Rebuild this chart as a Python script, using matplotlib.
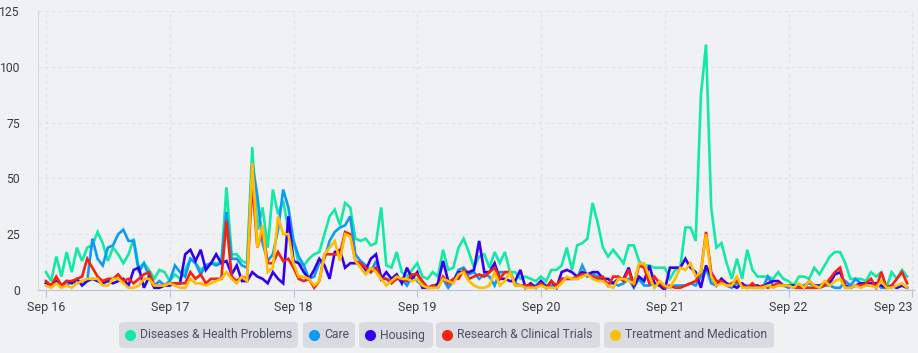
import numpy as np
import pandas as pd
import matplotlib
matplotlib.use('Agg')
import matplotlib.pyplot as plt
import matplotlib.dates as mdates
from matplotlib.patches import FancyBboxPatch

# hourly mentions, Sep 16 00:00 .. Sep 22 23:00
diseases = [8,4,15,6,17,8,19,13,19,20,26,21,13,19,16,12,16,23,10,12,9,5,9,8,
            4,7,5,9,14,12,9,11,12,12,12,46,16,16,13,12,64,27,37,19,45,34,40,27,
            22,12,11,14,16,17,25,33,36,29,39,37,23,22,23,20,21,37,11,10,17,8,6,9,
            12,6,5,8,6,18,9,10,19,23,17,10,15,16,10,17,12,17,8,8,5,6,5,4,
            6,4,9,9,11,19,9,20,21,23,39,30,19,15,18,15,12,20,20,13,11,11,10,10,
            10,5,9,10,28,28,22,87,110,37,19,21,12,5,14,5,18,9,6,6,6,5,8,5,
            4,2,6,6,5,10,7,11,15,17,17,12,5,5,5,4,8,6,8,1,8,5,9,6]
care = [3,2,3,2,2,4,3,4,4,23,14,11,19,20,25,27,22,22,8,12,6,2,4,2,
        4,11,8,6,14,12,7,11,12,11,12,35,14,14,11,10,57,42,21,13,16,27,45,37,
        22,15,11,5,6,12,14,22,26,28,29,33,16,13,11,8,13,6,5,4,5,5,2,6,
        4,2,1,2,2,5,1,4,9,10,7,8,5,7,6,2,8,8,8,3,2,2,2,2,
        4,2,2,2,5,5,5,5,11,6,7,6,4,3,3,2,3,5,1,5,2,2,3,2,
        2,1,2,2,2,3,2,6,10,3,2,5,2,1,3,2,2,1,1,1,6,2,2,2,
        1,2,2,2,3,2,1,2,2,1,1,4,2,5,3,2,2,3,1,1,2,1,2,1]
housing = [3,2,4,2,4,3,5,2,4,5,4,3,4,3,4,5,2,9,10,1,6,1,1,2,
           2,3,3,16,18,13,18,9,12,16,12,13,7,11,4,4,8,6,5,3,8,5,3,33,
           13,12,8,5,9,14,11,5,17,18,10,12,12,12,9,14,16,5,8,5,7,3,10,5,
           8,1,1,1,3,13,4,4,8,8,8,9,22,8,8,12,5,5,4,4,9,1,3,1,
           4,1,4,1,8,9,8,6,8,7,8,8,5,5,3,5,5,10,2,6,4,11,3,2,
           0,10,10,10,14,10,8,1,11,6,2,5,3,2,1,3,1,2,2,1,3,4,4,2,
           2,2,1,1,4,2,2,3,3,7,8,2,1,2,3,3,3,3,2,1,2,1,2,1]
research = [4,2,6,2,4,4,5,6,14,10,6,4,5,5,7,4,5,3,5,7,8,2,2,2,
            3,3,3,3,8,5,7,3,5,5,5,31,6,4,6,5,48,19,27,12,12,17,13,14,
            10,5,4,5,1,4,16,16,16,16,26,25,13,12,10,8,10,5,5,3,5,5,4,7,
            7,4,1,2,1,6,3,5,5,9,5,6,7,6,8,10,5,8,8,2,2,2,2,1,
            3,1,4,2,5,5,5,6,7,7,6,5,6,2,6,6,4,9,2,11,10,3,6,3,
            1,2,1,1,2,3,4,8,26,8,4,4,2,3,4,2,1,3,1,2,1,2,3,2,
            2,1,1,1,1,1,1,2,5,8,10,1,1,2,2,3,5,1,8,1,2,5,8,3]
treatment = [2,1,3,1,2,1,3,4,5,5,5,2,2,5,5,3,1,1,2,5,5,2,2,2,
             3,2,1,1,5,3,3,2,3,4,5,8,5,3,6,4,57,19,29,8,10,33,25,25,
             12,6,6,5,2,4,16,19,22,13,25,24,13,10,7,10,8,5,2,4,6,5,5,4,
             5,2,1,1,1,5,4,3,7,8,4,2,1,1,2,8,2,4,8,2,2,1,1,1,
             2,1,1,1,3,6,5,5,6,7,5,4,4,2,1,5,5,4,3,12,12,6,1,4,
             2,1,5,10,9,12,6,8,25,6,2,3,2,2,6,1,1,1,1,1,2,1,2,2,
             2,1,3,1,4,2,1,4,2,4,5,1,1,2,1,2,2,1,4,1,1,2,3,1]

names = ['Diseases & Health Problems', 'Care', 'Housing',
         'Research & Clinical Trials', 'Treatment and Medication']
colors = ['#14e8a6', '#0b9bf5', '#3300ee', '#f9200f', '#ffbf00']

times = pd.date_range('2023-09-16', periods=len(diseases), freq='h')
df = pd.DataFrame({'d': diseases, 'c': care, 'h': housing,
                   'r': research, 't': treatment}, index=times)

bg = '#f0f1f3'
plt.rcParams['font.family'] = ['Roboto', 'DejaVu Sans']

W, H = 918, 353
fig = plt.figure(figsize=(W / 100, H / 100), dpi=100, facecolor=bg)
ax = fig.add_axes([38 / W, 1 - 290 / H, (914 - 38) / W, (290 - 11) / H])
ax.set_facecolor(bg)

for col, c in zip(df.columns, colors):
    ax.plot(df.index, df[col], color=c, lw=1.9, solid_joinstyle='miter')

start = pd.Timestamp('2023-09-16')
ax.set_xlim(start - pd.Timedelta(minutes=93), pd.Timestamp('2023-09-23') + pd.Timedelta(minutes=20))
ax.set_ylim(0, 125)
ax.set_yticks([0, 25, 50, 75, 100, 125])
ax.xaxis.set_major_locator(mdates.DayLocator())
ax.xaxis.set_major_formatter(mdates.DateFormatter('%b %d'))

ax.grid(True, color='#dde2ea', lw=0.8, ls=(0, (3, 3)))
ax.set_axisbelow(True)
for s in ['top', 'right']:
    ax.spines[s].set_visible(False)
ax.spines['left'].set_color('#d3d9e6')
ax.spines['bottom'].set_color('#b9c3da')
ax.tick_params(axis='y', length=0, pad=13, labelsize=8.7, labelcolor='#373d3f')
ax.tick_params(axis='x', length=5, color='#b9c3da', pad=3, labelsize=9, labelcolor='#373d3f')

# last date label is pushed inside the figure
fig.canvas.draw()
xlabels = ax.get_xticklabels()
xlabels[-1].set_horizontalalignment('right')

# legend: one rounded grey chip per series
chips = [(119, 298), (303, 355), (359, 433), (436, 600), (604, 774)]
y0, y1 = 322, 348
for (xa, xb), name, c in zip(chips, names, colors):
    box = FancyBboxPatch((xa / W, 1 - y1 / H), (xb - xa) / W, (y1 - y0) / H,
                         boxstyle='round,pad=0,rounding_size=0.008',
                         transform=fig.transFigure, fc='#d8dce2', ec='none')
    fig.add_artist(box)
    yc = 1 - (y0 + y1) / 2 / H
    fig.add_artist(plt.Line2D([(xa + 11) / W], [yc], marker='o', ms=8, color=c,
                              mec='none', transform=fig.transFigure))
    fig.text((xa + 21) / W, yc, name, fontsize=8.7, color='#4a505c', va='center', ha='left')

fig.savefig('out.png', dpi=100, facecolor=bg)
